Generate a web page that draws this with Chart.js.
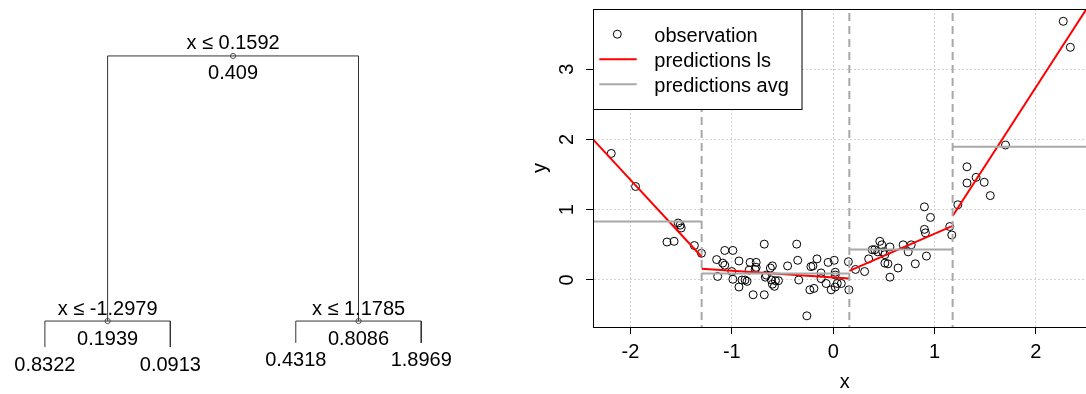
<!DOCTYPE html>
<html>
<head>
<meta charset="utf-8">
<script src="https://cdn.jsdelivr.net/npm/chart.js@4.4.0/dist/chart.umd.min.js"></script>
<style>
  html, body { margin: 0; padding: 0; background: #fff; overflow: hidden; width: 1086px; height: 394px; }
  #tree { position: absolute; left: 0; top: 0; }
  #fit { position: absolute; left: 500px; top: 0; }
</style>
</head>
<body>
<canvas id="tree" width="500" height="394"></canvas>
<canvas id="fit" width="640" height="394"></canvas>
<script>
// --- Arbre de régression ---
const splitLabels = ['x ≤ 0.1592', 'x ≤ -1.2979', 'x ≤ 1.1785'];
const nodeValues = ['0.409', '0.1939', '0.8086'];
const nodeHeights = [1, 0.0894, 0.0894];
const leafLabels = ['0.8322', '0.0913', '0.4318', '1.8969'];
const leafValues = [0.8322, 0.0913, 0.4318, 1.8969];
const leafHeights = [0, 0, 0.0144, 0.0144];

// --- Observations ---
const obsX = [
  -2.19, -1.95, -1.64, -1.57, -1.53, -1.51, -1.50, -1.37, -1.30,
  -1.15, -1.09, -1.07, -1.07, -0.99, -1.14, -0.99, -0.93, -0.93, -0.90,
  -0.87, -0.85, -0.82, -0.79, -0.76, -0.76, -0.68, -0.68, -0.67, -0.62,
  -0.60, -0.61, -0.60, -0.58, -0.57, -0.54, -0.45, -0.36, -0.35, -0.34,
  -0.23, -0.22, -0.20, -0.19, -0.16, -0.12, -0.12, -0.07, -0.05, -0.02,
  0.01, 0.02, 0.02, 0.04, 0.08, 0.15, 0.155, -0.26, -0.77, -0.66,
  -1.00, -0.83, 0.02,
  0.22, 0.31, 0.35, 0.385, 0.41, 0.44, 0.46, 0.48, 0.49, 0.51,
  0.51, 0.54, 0.56, 0.56, 0.64, 0.69, 0.74, 0.77, 0.81, 0.90,
  0.96, 0.90, 0.91, 0.92, 1.15, 1.17,
  1.23, 1.32, 1.32, 1.41, 1.49, 1.55, 1.70, 2.27, 2.34
];
const obsY = [
  1.80, 1.33, 0.54, 0.55, 0.81, 0.78, 0.74, 0.49, 0.38,
  0.29, 0.24, 0.21, 0.42, 0.42, 0.05, 0.01, 0.27, -0.10, 0.00,
  0.00, -0.02, 0.25, -0.21, 0.25, 0.18, 0.51, -0.21, 0.04, 0.17,
  0.20, 0.00, -0.06, -0.09, -0.01, -0.01, 0.20, 0.51, 0.28, 0.00,
  -0.14, 0.19, 0.20, -0.12, 0.30, 0.02, 0.10, -0.05, 0.25, -0.14,
  0.28, 0.11, 0.07, -0.05, -0.05, 0.26, -0.14, -0.51, 0.15, 0.07,
  0.12, 0.14, -0.10,
  0.15, 0.12, 0.30, 0.43, 0.43, 0.40, 0.55, 0.50, 0.40, 0.36,
  0.24, 0.23, 0.47, 0.04, 0.17, 0.50, 0.40, 0.50, 0.23, 1.04,
  0.89, 0.72, 0.67, 0.34, 0.76, 0.64,
  1.07, 1.61, 1.38, 1.46, 1.39, 1.20, 1.92, 3.68, 3.31
];

// --- Coupures, moyennes par feuille et droites des moindres carrés ---
const splits = [-1.2979, 0.1592, 1.1785];
const xRange = [-2.37, 2.6];
const yRange = [-0.669, 3.855];
const lsStart = [2.0, 0.16, 0.13, 0.91];
const lsEnd = [0.33, 0.02, 0.77, 4.08];

const xTicks = [-2, -1, 0, 1, 2];
const yTicks = [0, 1, 2, 3];

const FONT = '"Liberation Sans", Arial, sans-serif';
Chart.defaults.font.family = FONT;
Chart.defaults.font.size = 20;
Chart.defaults.color = '#000';

// ================= Arbre =================
// feuilles placées en 0..3, noeuds internes au milieu de leurs enfants
const leafX = leafValues.map((v, i) => i);
const children = [[-1, -2], [0, 1], [2, 3]]; // négatif = noeud interne (-1 -> noeud 1)
const nodeX = [0, 0, 0];
nodeX[1] = (leafX[0] + leafX[1]) / 2;
nodeX[2] = (leafX[2] + leafX[3]) / 2;
nodeX[0] = (nodeX[1] + nodeX[2]) / 2;

function childPos(c) {
  if (c < 0) return { x: nodeX[-c], y: nodeHeights[-c] };
  return { x: leafX[c], y: leafHeights[c] };
}

const edgeSets = children.map((pair, i) => {
  const a = childPos(pair[0]);
  const b = childPos(pair[1]);
  return {
    data: [a, { x: a.x, y: nodeHeights[i] }, { x: b.x, y: nodeHeights[i] }, b],
    showLine: true,
    borderColor: '#333',
    borderWidth: 1,
    pointRadius: 0,
    tension: 0
  };
});

const treeText = {
  id: 'treeText',
  afterDatasetsDraw(chart) {
    const { ctx, scales: { x, y } } = chart;
    ctx.save();
    ctx.font = '20px ' + FONT;
    ctx.fillStyle = '#000';
    ctx.textAlign = 'center';
    ctx.textBaseline = 'alphabetic';
    nodeX.forEach((nx, i) => {
      const px = x.getPixelForValue(nx);
      const py = y.getPixelForValue(nodeHeights[i]);
      ctx.fillText(splitLabels[i], px, py - 6.5);
      ctx.fillText(nodeValues[i], px, py + 23.5);
    });
    leafX.forEach((lx, i) => {
      ctx.fillText(leafLabels[i], x.getPixelForValue(lx), y.getPixelForValue(leafHeights[i]) + 23.5);
    });
    ctx.restore();
  }
};

new Chart(document.getElementById('tree'), {
  type: 'scatter',
  data: {
    datasets: edgeSets.concat([{
      data: nodeX.map((v, i) => ({ x: v, y: nodeHeights[i] })),
      pointRadius: 2.6,
      pointBorderWidth: 1,
      pointBorderColor: '#555',
      pointBackgroundColor: '#fff'
    }])
  },
  options: {
    responsive: false,
    animation: false,
    events: [],
    layout: { padding: 0 },
    plugins: { legend: { display: false }, tooltip: { enabled: false } },
    scales: {
      x: { display: false, min: -0.318, max: 3.588 },
      y: { display: false, min: -0.144, max: 1.175 }
    }
  },
  plugins: [treeText]
});

// ================= Nuage + prédictions =================
const bounds = [xRange[0]].concat(splits, [xRange[1]]);

const splitSets = splits.map(s => ({
  data: [{ x: s, y: -10 }, { x: s, y: 10 }],
  showLine: true,
  borderColor: '#a8a8a8',
  borderWidth: 2,
  borderDash: [8, 5],
  pointRadius: 0
}));

const avgSets = leafValues.map((v, i) => ({
  label: i === 0 ? 'predictions avg' : '',
  data: [{ x: bounds[i], y: v }, { x: bounds[i + 1], y: v }],
  showLine: true,
  borderColor: '#a8a8a8',
  borderWidth: 2,
  pointRadius: 0
}));

const lsSets = lsStart.map((v, i) => ({
  label: i === 0 ? 'predictions ls' : '',
  data: [{ x: bounds[i], y: v }, { x: bounds[i + 1], y: lsEnd[i] }],
  showLine: true,
  borderColor: '#ff0000',
  borderWidth: 2,
  pointRadius: 0
}));

const obsSet = {
  label: 'observation',
  data: obsX.map((v, i) => ({ x: v, y: obsY[i] })),
  pointStyle: 'circle',
  pointRadius: 4,
  pointBorderWidth: 1,
  pointBorderColor: '#000',
  pointBackgroundColor: 'rgba(0,0,0,0)'
};

// cadre du graphique + légende façon R
const frameLegend = {
  id: 'frameLegend',
  afterDatasetsDraw(chart) {
    const { ctx, chartArea: a } = chart;
    ctx.save();
    ctx.strokeStyle = '#000';
    ctx.lineWidth = 1;
    ctx.strokeRect(a.left + 0.5, a.top + 0.5, a.right - a.left, a.bottom - a.top);

    const bx = a.left + 0.5, by = a.top + 0.5, bw = 208.5, bh = 100;
    ctx.fillStyle = '#fff';
    ctx.fillRect(bx, by, bw, bh);
    ctx.strokeRect(bx, by, bw, bh);

    const rows = [obsSet, lsSets[0], avgSets[0]];
    ctx.font = '20px ' + FONT;
    ctx.textAlign = 'left';
    ctx.textBaseline = 'alphabetic';
    rows.forEach((ds, i) => {
      const base = a.top + 32.7 + i * 25;
      const cy = base - 7.5;
      if (i === 0) {
        ctx.beginPath();
        ctx.arc(a.left + 24.3, cy, 4, 0, Math.PI * 2);
        ctx.strokeStyle = '#000';
        ctx.lineWidth = 1;
        ctx.stroke();
      } else {
        ctx.beginPath();
        ctx.moveTo(a.left + 6.3, cy);
        ctx.lineTo(a.left + 43.7, cy);
        ctx.strokeStyle = ds.borderColor;
        ctx.lineWidth = 2;
        ctx.stroke();
      }
      ctx.fillStyle = '#000';
      ctx.fillText(ds.label, a.left + 61.3, base);
    });
    ctx.restore();
  }
};

new Chart(document.getElementById('fit'), {
  type: 'scatter',
  data: { datasets: splitSets.concat(avgSets, lsSets, [obsSet]) },
  options: {
    responsive: false,
    animation: false,
    events: [],
    layout: { padding: { left: 0, top: 9, right: 43.3, bottom: 0 } },
    plugins: { legend: { display: false }, tooltip: { enabled: false } },
    scales: {
      x: {
        type: 'linear',
        min: xRange[0],
        max: xRange[1],
        afterBuildTicks: s => { s.ticks = xTicks.map(v => ({ value: v })); },
        afterFit: s => { s.height = 67; s.paddingLeft = 0; s.paddingRight = 0; },
        grid: { color: '#d3d3d3', lineWidth: 1, tickColor: '#000', tickLength: 7, tickWidth: 1 },
        border: { color: '#000', width: 1, dash: [2, 2] },
        ticks: { color: '#000', padding: 6, maxRotation: 0 },
        title: { display: true, text: 'x', color: '#000', padding: { top: 0, bottom: 0 } }
      },
      y: {
        type: 'linear',
        min: yRange[0],
        max: yRange[1],
        afterBuildTicks: s => { s.ticks = yTicks.map(v => ({ value: v })); },
        afterFit: s => { s.width = 93; s.paddingTop = 0; s.paddingBottom = 0; },
        grid: { color: '#d3d3d3', lineWidth: 1, tickColor: '#000', tickLength: 7, tickWidth: 1 },
        border: { color: '#000', width: 1, dash: [2, 2] },
        ticks: { color: '#000', padding: 13, minRotation: 90, maxRotation: 90, crossAlign: 'center' },
        title: { display: true, text: 'y', color: '#000', padding: { top: 28, bottom: 0 } }
      }
    }
  },
  plugins: [frameLegend]
});
</script>
</body>
</html>
